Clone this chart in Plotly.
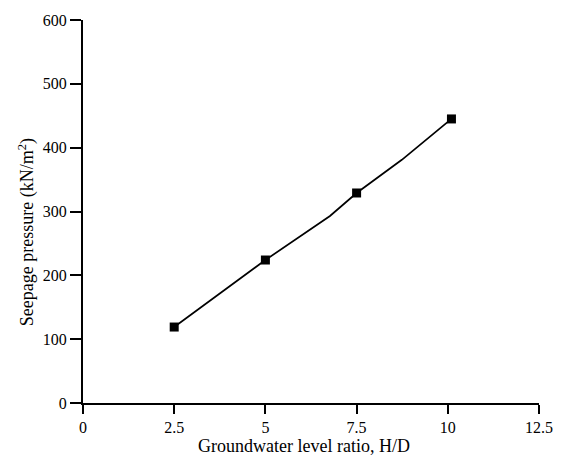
import plotly.graph_objects as go

# measured points (markers)
ratio = [2.5, 5.0, 7.5, 10.1]
pressure = [119, 224, 329, 445]

# line path (includes visible bends)
line_ratio = [2.42, 2.5, 5.0, 6.77, 7.5, 8.74, 10.1]
line_pressure = [116, 119, 224, 293, 329, 381, 445]

x_ticks = [0, 2.5, 5, 7.5, 10, 12.5]
x_tick_text = ["0", "2.5", "5", "7.5", "10", "12.5"]
y_ticks = [0, 100, 200, 300, 400, 500, 600]

x_title = "Groundwater level ratio, H/D"
y_title = "Seepage pressure (kN/m<sup>2</sup>)"

font_family = "Liberation Serif"

fig = go.Figure()
fig.add_trace(go.Scatter(x=line_ratio, y=line_pressure, mode="lines",
                         line=dict(color="black", width=1.7),
                         showlegend=False, hoverinfo="skip"))
fig.add_trace(go.Scatter(x=ratio, y=pressure, mode="markers",
                         marker=dict(symbol="square", size=9, color="black",
                                     line=dict(width=0)),
                         showlegend=False))

fig.update_layout(
    width=570, height=457,
    margin=dict(l=83, r=31, t=15, b=54),
    paper_bgcolor="white", plot_bgcolor="white",
    font=dict(family=font_family, size=16, color="black"),
    xaxis=dict(
        range=[0, 12.5], tickvals=x_ticks, ticktext=x_tick_text,
        showgrid=False, zeroline=False,
        showline=True, linecolor="black", linewidth=2,
        ticks="outside", ticklen=9, tickwidth=2, tickcolor="black",
        tickfont=dict(family=font_family, size=16),
    ),
    yaxis=dict(
        range=[0, 600], tickvals=y_ticks,
        showgrid=False, zeroline=False,
        showline=True, linecolor="black", linewidth=2,
        ticks="outside", ticklen=11, tickwidth=2, tickcolor="black",
        tickfont=dict(family=font_family, size=16),
    ),
    annotations=[
        dict(text=x_title, xref="paper", yref="paper", x=0.4846, y=-0.1134,
             xanchor="center", yanchor="middle", showarrow=False,
             font=dict(family=font_family, size=18)),
        dict(text=y_title, xref="paper", yref="paper", x=-0.1228, y=0.446,
             xanchor="center", yanchor="middle", showarrow=False, textangle=-90,
             font=dict(family=font_family, size=18)),
    ],
)

fig.write_html("out.html")
